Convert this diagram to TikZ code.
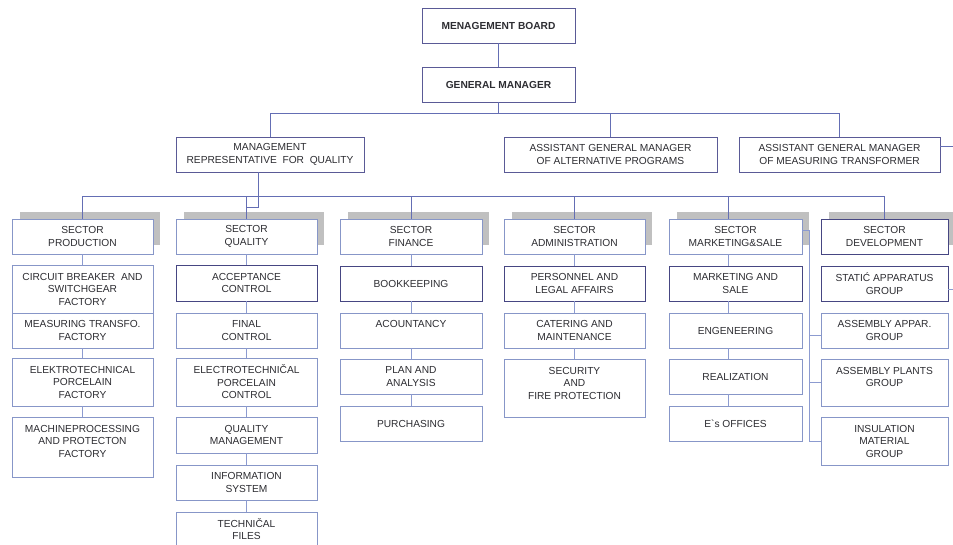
\documentclass[tikz,border=0pt]{standalone}
\usepackage{fontspec}
\setmainfont{Liberation Sans}
\usetikzlibrary{backgrounds}

\definecolor{ink}{RGB}{45,45,50}
\definecolor{edgedark}{RGB}{70,70,130}
\definecolor{edgelight}{RGB}{135,150,200}
\definecolor{edgetop}{RGB}{90,90,150}
\definecolor{wirecol}{RGB}{100,110,180}
\definecolor{wirelightcol}{RGB}{140,155,208}
\definecolor{shadowgray}{RGB}{192,192,192}

\tikzset{
  orgfont/.style={font=\fontsize{10.2}{12.5}\selectfont},
  unitbox/.style={draw, fill=white, line width=0.9pt, inner sep=0pt,
                  align=center, text=ink, orgfont},
  topbox/.style={unitbox, draw=edgetop},
  darkbox/.style={unitbox, draw=edgedark},
  lightbox/.style={unitbox, draw=edgelight},
  txt/.style={inner sep=0pt, align=center, text=ink, orgfont},
  wire/.style={draw=wirecol, line width=0.8pt},
  thinwire/.style={draw=wirelightcol, line width=0.8pt},
  sectorshadow/.style={fill=shadowgray, draw=none},
}

% \orgbox{style}{name}{x1}{y1}{x2}{y2}{text}
\newcommand\orgbox[7]{%
  \node[#1, minimum width={#5pt-#3pt}, minimum height={#6pt-#4pt}]
    (#2) at ({(#3+#5)/2},{(#4+#6)/2}) {#7};}

\begin{document}
\begin{tikzpicture}[x=1pt, y=-1pt]
\useasboundingbox (0,0) rectangle (953,544);

% ---- top management
\orgbox{topbox}{mb}{422}{8}{575}{43}{\textbf{MENAGEMENT BOARD}}
\orgbox{topbox}{gm}{422}{67}{575}{102}{\textbf{GENERAL MANAGER}}
\orgbox{topbox}{mr}{176}{137}{364}{172}{MANAGEMENT\\REPRESENTATIVE\ \ FOR\ \ QUALITY}
\orgbox{topbox}{agma}{504}{137}{717}{172}{ASSISTANT GENERAL MANAGER\\OF ALTERNATIVE PROGRAMS}
\orgbox{topbox}{agmm}{739}{137}{940}{172}{ASSISTANT GENERAL MANAGER\\OF MEASURING TRANSFORMER}

% ---- sectors
\orgbox{lightbox}{sp}{12}{219}{153}{254}{SECTOR\\PRODUCTION}
\orgbox{lightbox}{sq}{176}{219}{317}{254}{SECTOR\\QUALITY}
\orgbox{lightbox}{sf}{340}{219}{482}{254}{SECTOR\\FINANCE}
\orgbox{lightbox}{sa}{504}{219}{645}{254}{SECTOR\\ADMINISTRATION}
\orgbox{lightbox}{sm}{669}{219}{802}{254}{SECTOR\\MARKETING\&SALE}
\orgbox{darkbox}{sd}{821}{219}{948}{254}{SECTOR\\DEVELOPMENT}

% ---- production
\orgbox{lightbox}{p1}{12}{265}{153}{313}{CIRCUIT BREAKER\ \ AND\\SWITCHGEAR\\FACTORY}
\orgbox{lightbox}{p2}{12}{313}{153}{348}{MEASURING TRANSFO.\\FACTORY}
\orgbox{lightbox}{p3}{12}{358}{153}{406}{ELEKTROTECHNICAL\\PORCELAIN\\FACTORY}
\orgbox{lightbox}{p4}{12}{417}{153}{477}{}
\node[txt] at ([yshift=6pt]p4.center) {MACHINEPROCESSING\\AND PROTECTON\\FACTORY};

% ---- quality
\orgbox{darkbox}{q1}{176}{265}{317}{301}{ACCEPTANCE\\CONTROL}
\orgbox{lightbox}{q2}{176}{313}{317}{348}{FINAL\\CONTROL}
\orgbox{lightbox}{q3}{176}{358}{317}{406}{ELECTROTECHNIČAL\\PORCELAIN\\CONTROL}
\orgbox{lightbox}{q4}{176}{417}{317}{453}{QUALITY\\MANAGEMENT}
\orgbox{lightbox}{q5}{176}{465}{317}{500}{INFORMATION\\SYSTEM}
\orgbox{lightbox}{q6}{176}{512}{317}{546}{TECHNIČAL\\FILES}

% ---- finance
\orgbox{darkbox}{f1}{340}{266}{482}{301}{BOOKKEEPING}
\orgbox{lightbox}{f2}{340}{313}{482}{348}{}
\node[txt] at ([yshift=6.5pt]f2.center) {ACOUNTANCY};
\orgbox{lightbox}{f3}{340}{359}{482}{394}{PLAN AND\\ANALYSIS}
\orgbox{lightbox}{f4}{340}{406}{482}{441}{PURCHASING}

% ---- administration
\orgbox{darkbox}{a1}{504}{266}{645}{301}{PERSONNEL AND\\LEGAL AFFAIRS}
\orgbox{lightbox}{a2}{504}{313}{645}{348}{CATERING AND\\MAINTENANCE}
\orgbox{lightbox}{a3}{504}{359}{645}{417}{}
\node[txt] at ([yshift=5pt]a3.center) {SECURITY\\AND\\FIRE PROTECTION};

% ---- marketing
\orgbox{darkbox}{m1}{669}{266}{802}{301}{MARKETING AND\\SALE}
\orgbox{lightbox}{m2}{669}{313}{802}{348}{ENGENEERING}
\orgbox{lightbox}{m3}{669}{359}{802}{394}{REALIZATION}
\orgbox{lightbox}{m4}{669}{406}{802}{441}{E\textasciigrave s OFFICES}

% ---- development
\orgbox{darkbox}{d1}{821}{266}{948}{301}{STATIĆ APPARATUS\\GROUP}
\orgbox{lightbox}{d2}{821}{313}{948}{348}{ASSEMBLY APPAR.\\GROUP}
\orgbox{lightbox}{d3}{821}{359}{948}{406}{}
\node[txt] at ([yshift=5.5pt]d3.center) {ASSEMBLY PLANTS\\GROUP};
\orgbox{lightbox}{d4}{821}{417}{948}{465}{INSULATION\\MATERIAL\\GROUP}

% ---- sector shadows
\begin{scope}[on background layer]
  \foreach \s in {sp,sq,sf,sa,sm,sd}
    \path[sectorshadow] ([shift={(8pt,7pt)}]\s.north west) rectangle ([shift={(7pt,9pt)}]\s.south east);
\end{scope}

% ---- bus levels
\coordinate (busA) at (0,113);
\coordinate (busB) at (0,196);
\coordinate (offR) at (955,146);
\coordinate (offS) at (955,289);

% ---- upper connectors
\draw[wire] (mb.south) -- (gm.north);
\draw[wire] (gm.south) -- (gm.south |- busA);
\draw[wire] (mr.north) |- (agmm.north |- busA) -- (agmm.north);
\draw[wire] (agma.north) -- (agma.north |- busA);
\draw[wire] ([yshift=8.5pt]agmm.east) -- (offR);

% ---- sector bus
\draw[wire] (sp.north) |- (sd.north |- busB) -- (sd.north);
\foreach \s in {sq,sf,sa}
  \draw[wire] (\s.north) -- (\s.north |- busB);
\draw[wire] ([xshift=-7pt]sm.north) -- ([xshift=-7pt]sm.north |- busB);
\draw[wire] ([xshift=-12pt]mr.south) -- ++(0,35) -| (sq.north);

% ---- column connectors
\foreach \a/\b in {sp/p1,p2/p3,p3/p4,
                   sq/q1,q1/q2,q2/q3,q3/q4,q4/q5,q5/q6,
                   sf/f1,f1/f2,f2/f3,f3/f4,
                   sa/a1,a1/a2,a2/a3}
  \draw[thinwire] (\a.south) -- (\b.north);
\foreach \a/\b in {sm/m1,m1/m2,m2/m3,m3/m4}
  \draw[thinwire] ([xshift=-7pt]\a.south) -- ([xshift=-7pt]\b.north);

% ---- marketing feed to development groups
\draw[thinwire] ([yshift=6.5pt]sm.east) -| ([xshift=-11pt]d4.west) -- (d4.west);
\draw[thinwire] ([yshift=-4.5pt]d2.west) -- ++(-11,0);
\draw[thinwire] (d3.west) -- ++(-11,0);
\draw[thinwire] ([yshift=-5.5pt]d1.east) -- (offS);
\end{tikzpicture}
\end{document}
